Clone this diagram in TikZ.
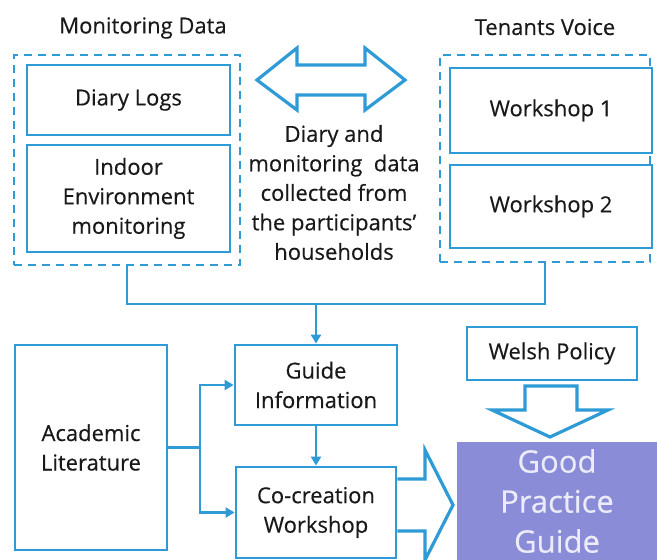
\documentclass[tikz,border=0pt]{standalone}
\usepackage{fontspec}
\setmainfont{Open Sans}[FakeBold=0.35]
\usetikzlibrary{arrows.meta}
\definecolor{flowblue}{RGB}{46,155,214}
\definecolor{guidefill}{RGB}{138,140,216}
\definecolor{guidetext}{RGB}{236,236,248}
\definecolor{ink}{RGB}{25,25,25}
\begin{document}
\begin{tikzpicture}[x=1pt,y=-1pt,
  box/.style={draw=flowblue,line width=2.8pt,fill=white,align=center,inner sep=0pt,
    text=ink,font=\fontsize{22}{29.5}\selectfont},
  group/.style={draw=flowblue,line width=2.8pt,dash pattern=on 8pt off 6pt,inner sep=0pt},
  label/.style={font=\fontsize{22}{29.5}\selectfont,align=center,text=ink},
  link/.style={draw=flowblue,line width=2.8pt},
  tip/.style={link,-{Triangle[length=9pt,width=10pt]}},
  blockarrow/.style={draw=flowblue,line width=3.2pt,fill=white,line join=miter}]
\useasboundingbox (0,0) rectangle (657,560);

% monitoring data group
\node[group,minimum width=226pt,minimum height=210pt] (md) at (127,160) {};
\node[label] (mdlabel) at (143,28) {Monitoring Data};
\node[box,minimum width=203pt,minimum height=70pt] (diary) at (128.5,100) {Diary Logs};
\node[box,minimum width=203pt,minimum height=107pt] (indoor) at (128.5,198.5) {Indoor\\Environment\\monitoring};

% tenants voice group
\node[group,minimum width=210pt,minimum height=207pt] (tv) at (545,158.5) {};
\node[label] (tvlabel) at (545,27) {Tenants Voice};
\node[box,minimum width=202pt,minimum height=85pt] (ws1) at (551,110.5) {Workshop 1};
\node[box,minimum width=202pt,minimum height=83pt] (ws2) at (551,206.5) {Workshop 2};

% two-way exchange between the groups
\coordinate (dl) at (257,80);
\coordinate (dr) at (405,80);
\draw[blockarrow] (dl) -- ++(40,-32) -- ++(0,17) -- ++(68,0) -- ++(0,-17) -- (dr)
  -- ++(-40,30) -- ++(0,-15) -- ++(-68,0) -- ++(0,15) -- cycle;
\node[label] (exch) at (334,192.5) {Diary and\\monitoring\ \ data\\collected from\\the participants'\\households};

% lower flow
\node[box,minimum width=162pt,minimum height=80pt] (gi) at (316,385) {Guide\\Information};
\node[box,minimum width=160pt,minimum height=91pt] (cw) at (316,512.5) {Co-creation\\Workshop};
\node[box,minimum width=152pt,minimum height=205pt] (al) at (91,447.5) {Academic\\Literature};
\node[box,minimum width=170pt,minimum height=53pt] (wp) at (552,353.5) {Welsh Policy};
\node[draw=none,fill=guidefill,minimum width=200pt,minimum height=118pt,inner sep=0pt,
  align=center,text=guidetext,font=\fontsize{31}{40}\selectfont] (gpg) at (557,501) {Good\\Practice\\Guide};

% merging the two data sources
\coordinate (merge) at (316,304);
\draw[link] (md.south) |- (merge) -| (tv.south);
\draw[tip] (merge) -- (gi.north);
\draw[tip] (gi.south) -- (cw.north);

% literature feeds both steps
\coordinate (split) at (200,447.5);
\draw[link] (al.east) -- (split);
\draw[tip] (split) |- (gi.west);
\draw[tip] (split) |- (cw.west);

% block arrows into the guide
\draw[blockarrow] (525,386) -- (577,386) -- (577,410) -- (608,410) -- (550,437)
  -- (492,410) -- (525,410) -- cycle;
\draw[blockarrow] (cw.east |- 0,479) -- (425,479) -- (425,450) -- (453,505)
  -- (425,560) -- (425,531) -- (cw.east |- 0,531);
\end{tikzpicture}
\end{document}
